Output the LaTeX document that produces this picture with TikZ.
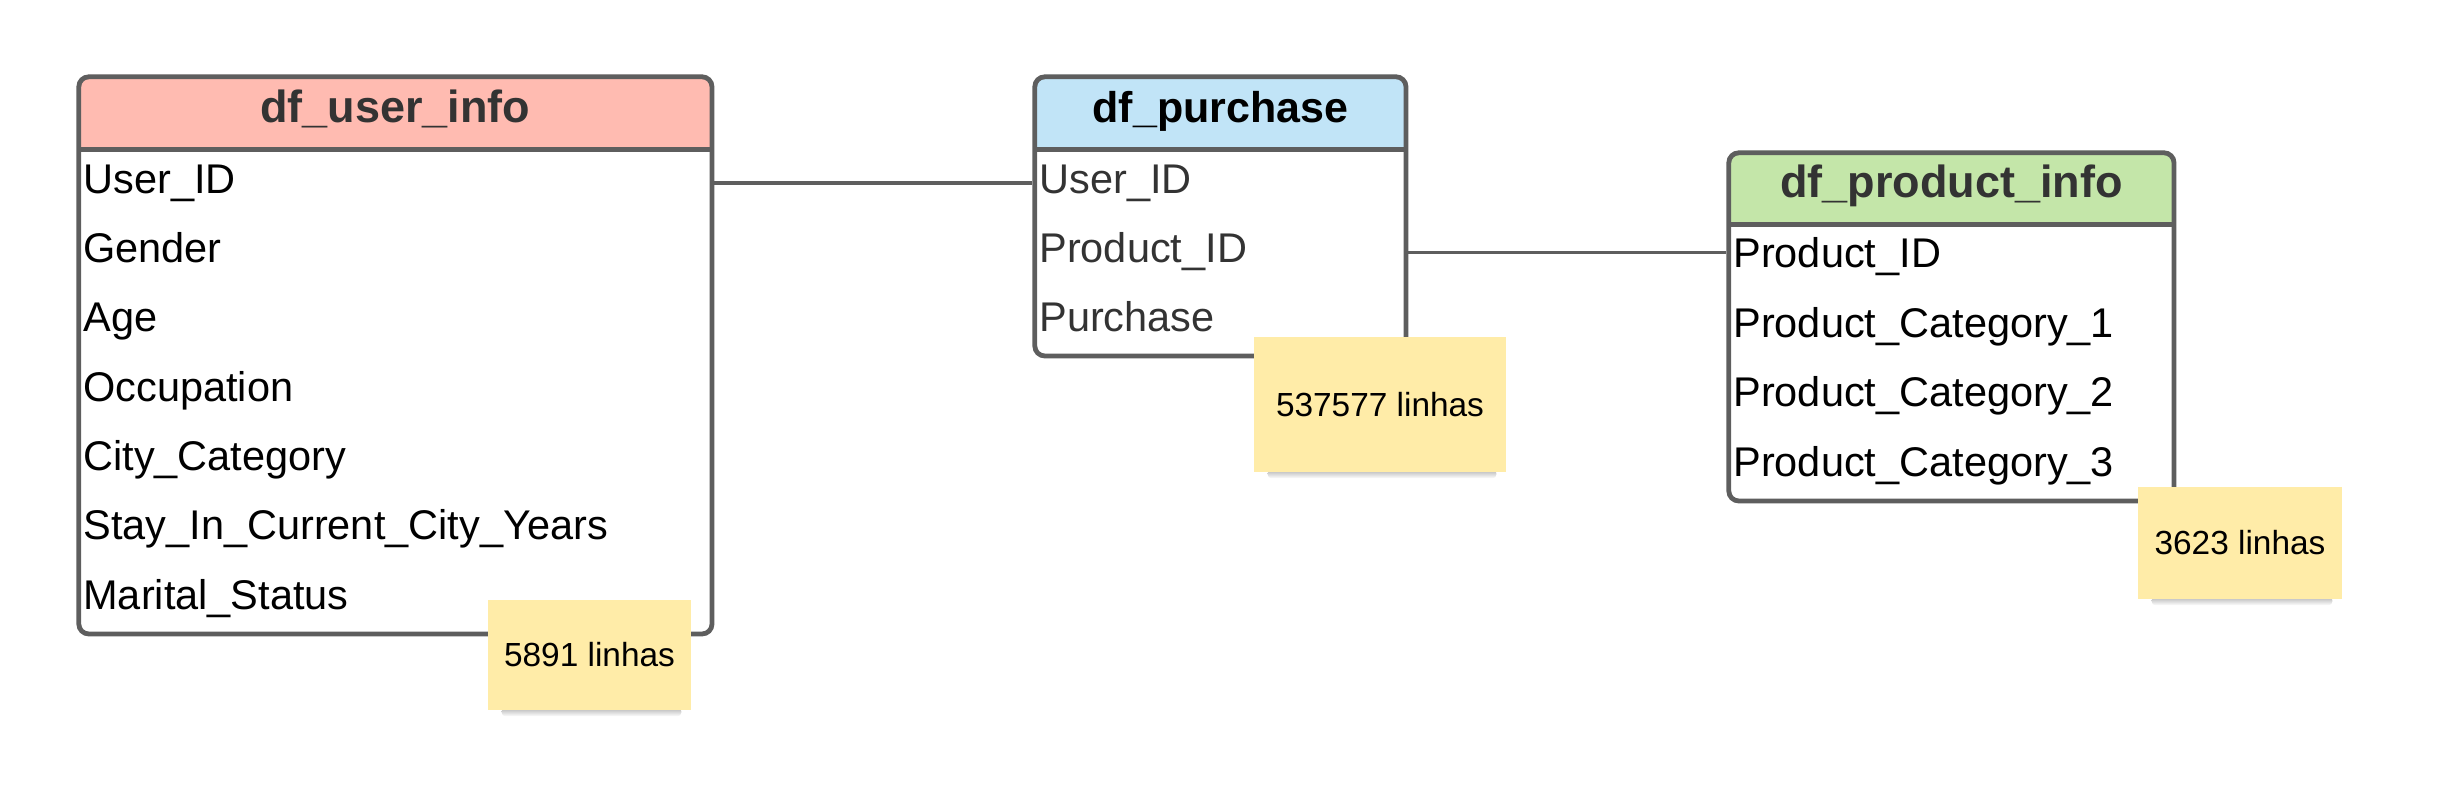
\documentclass[tikz,border=0pt]{standalone}
\usepackage{fontspec}
\setmainfont{Liberation Sans}
\usetikzlibrary{positioning, calc}
\usetikzlibrary{backgrounds}
\definecolor{lnk}{HTML}{5E5E5E}
\definecolor{hdred}{HTML}{FFBBB1}
\definecolor{hdblue}{HTML}{C1E4F7}
\definecolor{hdgreen}{HTML}{C4E6A9}
\definecolor{noteyel}{HTML}{FFECA8}
\definecolor{txtgrey}{HTML}{333333}
\newcommand{\fldfont}{\fontsize{20.75pt}{24pt}\selectfont}
\newcommand{\notefont}{\fontsize{16.7pt}{20pt}\selectfont}

\begin{document}
\begin{tikzpicture}[x=0.5pt,y=-0.5pt]
		\tikzstyle{frame} = [draw=lnk, line width=2.4pt, rounded corners=5pt, inner sep=0pt, anchor=north west]
		\tikzstyle{head} = [rounded corners=5pt, inner sep=0pt, anchor=north, minimum height=37pt]
		\tikzstyle{title} = [inner sep=0pt, font=\bfseries\fontsize{22.5pt}{26pt}\selectfont, text height=16.2pt, text depth=5.6pt]
		\tikzstyle{sep} = [lnk, line width=2.4pt]
		\tikzstyle{fld} = [anchor=west, inner sep=0pt, font=\fldfont, text height=15.5pt, text depth=5.2pt]
		\tikzstyle{note} = [fill=noteyel, inner sep=0pt, font=\notefont]
		\tikzstyle{shd} = [top color=black!30, bottom color=white, rounded corners=2pt]
		\tikzstyle{link} = [lnk, line width=1.6pt]
		\useasboundingbox (0,0) rectangle (2443,801);

		\node[frame, minimum width=316.6pt, minimum height=278.6pt] (user) at (76.4,74.4) {};
		\node[frame, minimum width=185.6pt, minimum height=139.6pt] (purch) at (1032.4,74.4) {};
		\node[frame, minimum width=222.6pt, minimum height=174.1pt] (prod) at (1726.4,150.4) {};
		\begin{scope}[on background layer]
		\node[head, fill=hdred, minimum width=316.6pt] (userhd) at (user.north) {};
		\fill[hdred] (userhd.west) rectangle (userhd.south east);
		\node[head, fill=hdblue, minimum width=185.6pt] (purchhd) at (purch.north) {};
		\fill[hdblue] (purchhd.west) rectangle (purchhd.south east);
		\node[head, fill=hdgreen, minimum width=222.6pt, minimum height=36.5pt] (prodhd) at (prod.north) {};
		\fill[hdgreen] (prodhd.west) rectangle (prodhd.south east);
		\end{scope}
		\draw[sep] (userhd.south west) -- (userhd.south east);
		\draw[sep] (purchhd.south west) -- (purchhd.south east);
		\draw[sep] (prodhd.south west) -- (prodhd.south east);
		\node[title, text=txtgrey] (usert) at (userhd) {df\_user\_info};
		\node[title, font=\bfseries\fontsize{21.5pt}{26pt}\selectfont] (purcht) at (purchhd) {df\_purchase};
		\node[title, text=txtgrey] (prodt) at (prodhd) {df\_product\_info};

		\node[fld] (uid) at (83,183) {User\_ID}; \node[fld] (ugen) at (83,252.3) {Gender};
		\node[fld] (uage) at (83,321.6) {Age}; \node[fld] (uocc) at (83,390.9) {Occupation};
		\node[fld] (ucity) at (83,460.2) {City\_Category}; \node[fld] (ustay) at (83,529.5) {Stay\_In\_Current\_City\_Years};
		\node[fld] (umar) at (83,598.8) {Marital\_Status};

		\node[fld, text=txtgrey] (puid) at (1039,183) {User\_ID}; \node[fld, text=txtgrey] (ppid) at (1039,252.5) {Product\_ID};
		\node[fld, text=txtgrey] (pbuy) at (1039,321.5) {Purchase};

		\node[fld] (rpid) at (1733,257.5) {Product\_ID}; \node[fld] (rcat1) at (1733,327) {Product\_Category\_1};
		\node[fld] (rcat2) at (1733,396.5) {Product\_Category\_2}; \node[fld] (rcat3) at (1733,466) {Product\_Category\_3};

		\draw[link] (uid -| user.east) -- (uid -| purch.west);
		\draw[link] (ppid -| purch.east) -- (ppid -| prod.west);

		\node[note, minimum width=101.5pt, minimum height=55pt] (nuser) at (589.5,655) {5891 linhas};
		\node[note, minimum width=126pt, minimum height=67.5pt] (npurch) at (1380,404.5) {537577 linhas};
		\node[note, minimum width=102pt, minimum height=56pt] (nprod) at (2240,543) {3623 linhas};
		\begin{scope}[on background layer]
		\shade[shd] ($(nuser.south west)+(14,-3)$) rectangle ($(nuser.south east)+(-10,6)$);
		\shade[shd] ($(npurch.south west)+(14,-3)$) rectangle ($(npurch.south east)+(-10,6)$);
		\shade[shd] ($(nprod.south west)+(14,-3)$) rectangle ($(nprod.south east)+(-10,6)$);
		\end{scope}
		\end{tikzpicture}
\end{document}
